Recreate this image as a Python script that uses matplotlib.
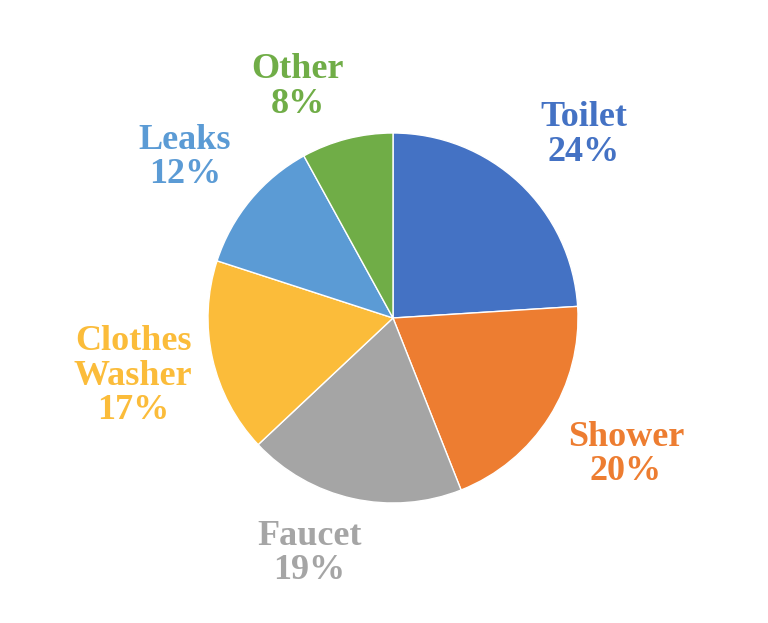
import matplotlib.pyplot as plt
import numpy as np

labels = ['Toilet', 'Shower', 'Faucet', 'Clothes\nWasher', 'Leaks', 'Other']
shares = [24, 20, 19, 17, 12, 8]
colors = ['#4472C4', '#ED7D31', '#A5A5A5', '#FBBC3A', '#5B9BD5', '#70AD47']

# how far out each label sits (in pie radii) and small angle nudges
label_dist = [1.43, 1.46, 1.35, 1.44, 1.42, 1.35]
angle_nudge = [-3, 2, -7, 0, 2, 8]

fig = plt.figure(figsize=(7.68, 6.23), dpi=100)
# axes placed so that pie centre lands at (393, 318) px with radius ~185 px
L = 1.6
S = 185 * 2 * L
ax = fig.add_axes([(393 - S / 2) / 768, (623 - 318 - S / 2) / 623, S / 768, S / 623])

wedges, _ = ax.pie(shares, colors=colors, startangle=90, counterclock=False,
                   wedgeprops=dict(edgecolor='white', linewidth=1))

for w, lab, val, col, d, nd in zip(wedges, labels, shares, colors, label_dist, angle_nudge):
    ang = np.deg2rad((w.theta1 + w.theta2) / 2 + nd)
    ax.text(d * np.cos(ang), d * np.sin(ang), f'{lab}\n{val}%',
            ha='center', va='center', color=col, fontsize=26,
            fontweight='bold', family='Liberation Serif', linespacing=1.05)

ax.set_xlim(-L, L)
ax.set_ylim(-L, L)
ax.set_aspect('equal')
ax.axis('off')

fig.savefig('out.png', dpi=100)
